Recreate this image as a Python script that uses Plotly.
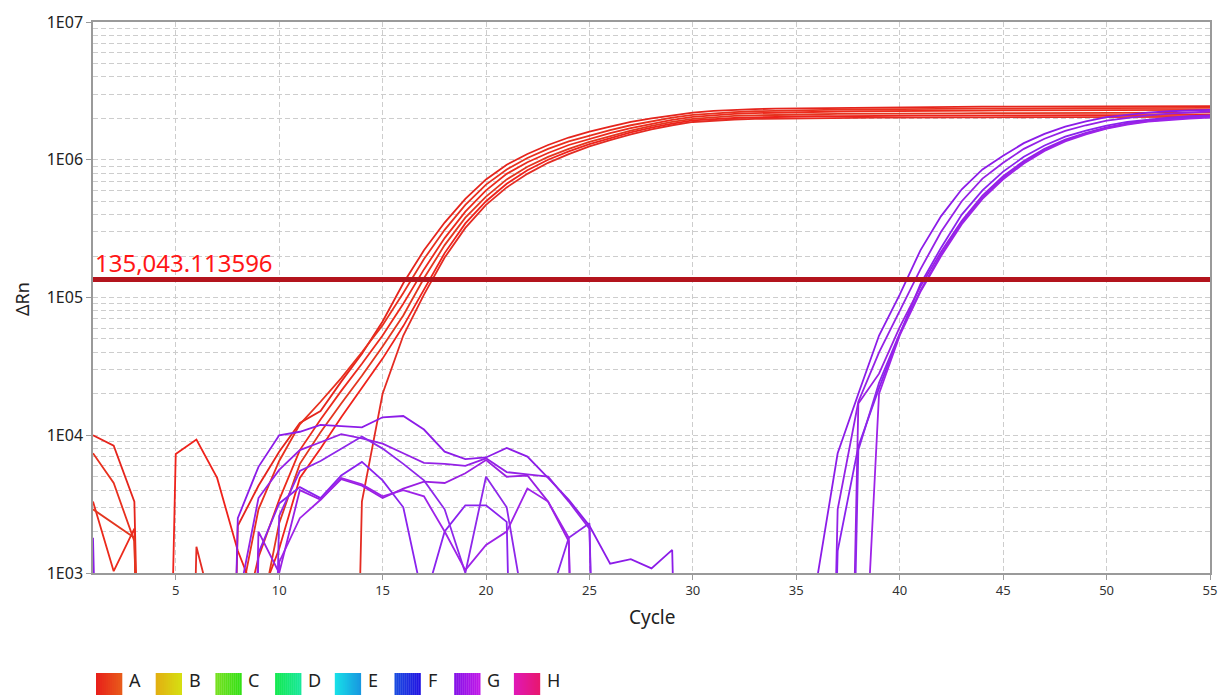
import math
import plotly.graph_objects as go

N = None  # below detection (off-scale on log axis)

cycles = list(range(1, 56))
THRESHOLD = 135043.113596
threshold_label = "135,043.113596"

# ---- Well A (red) amplification traces ----
A1 = [1.0e4, 8.4e3, 3.3e3, N, N, N, N, 2.2e3, 4.3e3, 7.6e3,
      1.23e4, 1.5e4, 2.45e4, 3.9e4, 6.7e4, 1.27e5, 2.2e5, 3.5e5, 5.2e5, 7.2e5,
      9.2e5, 1.1e6, 1.28e6, 1.45e6, 1.6e6, 1.74e6, 1.88e6, 2.0e6, 2.1e6, 2.2e6,
      2.26e6, 2.3e6, 2.33e6, 2.35e6, 2.36e6, 2.37e6, 2.38e6, 2.39e6, 2.4e6, 2.41e6,
      2.41e6, 2.42e6, 2.42e6, 2.43e6, 2.43e6, 2.43e6, 2.44e6, 2.44e6, 2.44e6, 2.44e6,
      2.45e6, 2.45e6, 2.45e6, 2.45e6, 2.45e6]
A2 = [7.4e3, 4.5e3, 1.7e3, N, N, N, N, 500, 2.9e3, 6.5e3,
      1.2e4, 1.75e4, 2.6e4, 4.0e4, 6.3e4, 1.08e5, 1.9e5, 3.1e5, 4.7e5, 6.6e5,
      8.5e5, 1.03e6, 1.2e6, 1.36e6, 1.5e6, 1.64e6, 1.78e6, 1.9e6, 2.02e6, 2.12e6,
      2.18e6, 2.22e6, 2.25e6, 2.27e6, 2.29e6, 2.3e6, 2.31e6, 2.32e6, 2.33e6, 2.33e6,
      2.34e6, 2.34e6, 2.35e6, 2.35e6, 2.35e6, 2.36e6, 2.36e6, 2.36e6, 2.37e6, 2.37e6,
      2.37e6, 2.37e6, 2.38e6, 2.38e6, 2.38e6]
A3 = [3.3e3, 1.03e3, 2.1e3, N, N, N, N, 300, 1.3e3, 3.4e3,
      7.8e3, 1.3e4, 2.1e4, 3.3e4, 5.3e4, 9.0e4, 1.6e5, 2.7e5, 4.2e5, 6.0e5,
      7.9e5, 9.6e5, 1.12e6, 1.28e6, 1.42e6, 1.56e6, 1.7e6, 1.83e6, 1.95e6, 2.05e6,
      2.11e6, 2.15e6, 2.18e6, 2.2e6, 2.22e6, 2.23e6, 2.24e6, 2.25e6, 2.25e6, 2.26e6,
      2.26e6, 2.27e6, 2.27e6, 2.27e6, 2.28e6, 2.28e6, 2.28e6, 2.29e6, 2.29e6, 2.29e6,
      2.29e6, 2.3e6, 2.3e6, 2.3e6, 2.3e6]
A4 = [2.9e3, 2.3e3, 1.8e3, N, N, N, N, N, 400, 2.3e3,
      6.2e3, 1.05e4, 1.7e4, 2.7e4, 4.4e4, 7.4e4, 1.38e5, 2.4e5, 3.8e5, 5.4e5,
      7.2e5, 8.9e5, 1.05e6, 1.2e6, 1.35e6, 1.49e6, 1.63e6, 1.76e6, 1.88e6, 1.98e6,
      2.04e6, 2.08e6, 2.1e6, 2.12e6, 2.13e6, 2.14e6, 2.15e6, 2.15e6, 2.16e6, 2.16e6,
      2.17e6, 2.17e6, 2.17e6, 2.18e6, 2.18e6, 2.18e6, 2.18e6, 2.19e6, 2.19e6, 2.19e6,
      2.19e6, 2.2e6, 2.2e6, 2.2e6, 2.2e6]
A5 = [N, N, N, N, 7.3e3, 9.3e3, 4.9e3, 1.45e3, 600, 1.5e3,
      4.9e3, 8.0e3, 1.35e4, 2.2e4, 3.6e4, 6.2e4, 1.15e5, 2.1e5, 3.45e5, 5.0e5,
      6.7e5, 8.4e5, 1.0e6, 1.15e6, 1.3e6, 1.44e6, 1.58e6, 1.71e6, 1.83e6, 1.93e6,
      1.98e6, 2.01e6, 2.03e6, 2.05e6, 2.06e6, 2.07e6, 2.07e6, 2.08e6, 2.08e6, 2.09e6,
      2.09e6, 2.09e6, 2.1e6, 2.1e6, 2.1e6, 2.1e6, 2.11e6, 2.11e6, 2.11e6, 2.11e6,
      2.11e6, 2.12e6, 2.12e6, 2.12e6, 2.12e6]
A6 = [N, N, N, N, N, 1.55e3, 400, N, N, N,
      N, N, N, 3.3e3, 2.0e4, 5.3e4, 1.05e5, 1.95e5, 3.2e5, 4.7e5,
      6.3e5, 7.9e5, 9.5e5, 1.1e6, 1.25e6, 1.39e6, 1.53e6, 1.66e6, 1.78e6, 1.88e6,
      1.93e6, 1.96e6, 1.98e6, 1.99e6, 2.0e6, 2.01e6, 2.01e6, 2.02e6, 2.02e6, 2.02e6,
      2.03e6, 2.03e6, 2.03e6, 2.03e6, 2.04e6, 2.04e6, 2.04e6, 2.04e6, 2.04e6, 2.05e6,
      2.05e6, 2.05e6, 2.05e6, 2.05e6, 2.05e6]

# ---- Well G (purple) amplification traces ----
G1 = [1.8e3, N, N, N, N, N, N, 2.5e3, 5.9e3, 1.0e4,
      1.06e4, 1.19e4, 1.16e4, 1.14e4, 1.35e4, 1.38e4, 1.1e4, 7.6e3, 6.7e3, 6.9e3,
      8.1e3, 7.0e3, 4.9e3, 3.4e3, 2.2e3, 1.17e3, 1.26e3, 1.08e3, 1.47e3, N,
      N, N, N, N, N, 900, 7.4e3, 2.0e4, 5.3e4, 1.05e5,
      2.2e5, 3.9e5, 6.1e5, 8.5e5, 1.07e6, 1.32e6, 1.54e6, 1.74e6, 1.9e6, 2.04e6,
      2.13e6, 2.2e6, 2.25e6, 2.28e6, 2.3e6]
G2 = [N, N, N, N, N, N, N, 600, 3.5e3, 5.6e3,
      7.8e3, 8.9e3, 1.02e4, 9.5e3, 8.7e3, 7.4e3, 6.3e3, 6.2e3, 6.0e3, 6.8e3,
      5.4e3, 5.2e3, 5.0e3, 3.3e3, 2.1e3, N, N, N, N, N,
      N, N, N, N, N, N, 2.9e3, 1.75e4, 4.0e4, 8.0e4,
      1.6e5, 3.0e5, 5.0e5, 7.3e5, 9.5e5, 1.2e6, 1.42e6, 1.62e6, 1.78e6, 1.92e6,
      2.02e6, 2.1e6, 2.16e6, 2.2e6, 2.24e6]
G3 = [N, N, N, N, N, N, N, N, 1.4e3, 3.2e3,
      4.2e3, 3.5e3, 5.1e3, 6.4e3, 4.7e3, 3.0e3, 600, 2.0e3, 3.1e3, 3.1e3,
      2.35e3, N, N, N, N, N, N, N, N, N,
      N, N, N, N, N, N, 1.45e3, 8.3e3, 2.2e4, 5.4e4,
      1.25e5, 2.3e5, 4.0e5, 6.0e5, 8.2e5, 1.05e6, 1.27e6, 1.47e6, 1.63e6, 1.77e6,
      1.88e6, 1.96e6, 2.02e6, 2.07e6, 2.1e6]
G4 = [N, N, N, N, N, N, N, N, 2.0e3, 1.0e3,
      4.0e3, 3.4e3, 4.8e3, 4.3e3, 3.5e3, 4.1e3, 4.6e3, 4.5e3, 5.3e3, 6.6e3,
      5.0e3, 5.1e3, 3.3e3, 1.7e3, N, N, N, N, N, N,
      N, N, N, N, N, N, N, 1.7e4, 2.8e4, 6.1e4,
      1.2e5, 2.15e5, 3.6e5, 5.5e5, 7.6e5, 9.8e5, 1.2e6, 1.4e6, 1.57e6, 1.72e6,
      1.84e6, 1.93e6, 2.0e6, 2.05e6, 2.08e6]
G5 = [N, N, N, N, N, N, N, N, N, 2.6e3,
      5.5e3, 6.5e3, 8.0e3, 9.8e3, 8.0e3, 6.2e3, 4.7e3, 2.9e3, 1.0e3, 5.0e3,
      3.0e3, 400, 600, 1.8e3, 2.3e3, N, N, N, N, N,
      N, N, N, N, N, N, N, 7.8e3, 2.4e4, 5.5e4,
      1.12e5, 2.05e5, 3.5e5, 5.3e5, 7.4e5, 9.6e5, 1.18e6, 1.38e6, 1.55e6, 1.7e6,
      1.82e6, 1.91e6, 1.97e6, 2.02e6, 2.05e6]
G6 = [N, N, N, N, N, N, N, N, N, 1.2e3,
      2.5e3, 3.4e3, 4.9e3, 4.4e3, 3.6e3, 4.0e3, 3.6e3, 2.0e3, 1.05e3, 1.6e3,
      2.0e3, 4.1e3, 3.3e3, 1.8e3, N, N, N, N, N, N,
      N, N, N, N, N, N, N, 22, 2.0e4, 5.3e4,
      1.1e5, 2.0e5, 3.4e5, 5.2e5, 7.2e5, 9.4e5, 1.16e6, 1.36e6, 1.53e6, 1.68e6,
      1.8e6, 1.89e6, 1.95e6, 1.99e6, 2.02e6]

red_series = [A1, A2, A3, A4, A5, A6]
purple_series = [G1, G2, G3, G4, G5, G6]
red_colors = ["#e5241c", "#e8301e", "#ec2a1c", "#e3361f", "#ef221b", "#e42b22"]
purple_colors = ["#8c1ce8", "#9421e6", "#8a22ee", "#9a1fe2", "#8e27ea", "#9e22e8"]

# legend categories and their gradient colours
legend_names = ["A", "B", "C", "D", "E", "F", "G", "H"]
legend_grad = [("#e81e1a", "#e85c1a"), ("#e2ae12", "#d6e012"), ("#7ae020", "#30e014"),
               ("#14e84e", "#18e89c"), ("#18e2e8", "#1896e0"), ("#1a4ee0", "#2212e2"),
               ("#8212e8", "#c41ae8"), ("#e018b8", "#e8186e")]

y_ticks = [1e3, 1e4, 1e5, 1e6, 1e7]
y_ticktext = ["1E03", "1E04", "1E05", "1E06", "1E07"]
x_ticks = [5, 10, 15, 20, 25, 30, 35, 40, 45, 50, 55]

FLOOR = 1e-3  # display value for below-range points on the log axis


def disp(vals):
    return [FLOOR if v is None else v for v in vals]


fig = go.Figure()
for vals, col in zip(red_series, red_colors):
    fig.add_trace(go.Scatter(x=cycles, y=disp(vals), mode="lines",
                             line=dict(color=col, width=1.8), showlegend=False,
                             hoverinfo="skip"))
for vals, col in zip(purple_series, purple_colors):
    fig.add_trace(go.Scatter(x=cycles, y=disp(vals), mode="lines",
                             line=dict(color=col, width=1.8), showlegend=False,
                             hoverinfo="skip"))

# threshold
fig.add_trace(go.Scatter(x=[cycles[0], cycles[-1]], y=[THRESHOLD, THRESHOLD], mode="lines",
                         line=dict(color="#b3141d", width=5), showlegend=False,
                         hoverinfo="skip"))

W, H = 1218, 695
ML, MR, MT, MB = 93, 8, 22, 122
PW, PH = W - ML - MR, H - MT - MB


def px_x(px):
    return (px - ML) / PW


def px_y(py):
    return (H - MB - py) / PH


fig.add_annotation(x=cycles[0], y=math.log10(THRESHOLD), xref="x", yref="y",
                   text=threshold_label, showarrow=False, xanchor="left", yanchor="bottom",
                   xshift=0, yshift=-1,
                   font=dict(family="Noto Sans", size=24, color="#ff1616"))

# axis titles
fig.add_annotation(x=0.5, y=px_y(617), xref="paper", yref="paper", text="Cycle",
                   showarrow=False, xanchor="center", yanchor="middle",
                   font=dict(family="Noto Sans", size=19, color="#222"))
fig.add_annotation(x=px_x(22), y=px_y(299), xref="paper", yref="paper", text="ΔRn",
                   showarrow=False, textangle=-90, xanchor="center", yanchor="middle",
                   font=dict(family="Noto Sans", size=18, color="#222"))


def hex2rgb(h):
    h = h.lstrip("#")
    return tuple(int(h[i:i + 2], 16) for i in (0, 2, 4))


# legend with gradient swatches
shapes = []
sw, step, nsl = 26, 59.7, 13
for i, (name, (c0, c1)) in enumerate(zip(legend_names, legend_grad)):
    x0 = 96 + i * step
    r0, r1 = hex2rgb(c0), hex2rgb(c1)
    for k in range(nsl):
        t = (k + 0.5) / nsl
        c = tuple(round(r0[j] + (r1[j] - r0[j]) * t) for j in range(3))
        xa = x0 + sw * k / nsl
        xb = x0 + sw * (k + 1) / nsl + 0.3
        shapes.append(dict(type="rect", xref="paper", yref="paper",
                           x0=px_x(xa), x1=px_x(xb), y0=px_y(673), y1=px_y(695),
                           fillcolor="rgb(%d,%d,%d)" % c, line=dict(width=0), layer="above"))
    fig.add_annotation(x=px_x(x0 + sw + 5), y=px_y(694), xref="paper", yref="paper",
                       text=name, showarrow=False, xanchor="left", yanchor="bottom",
                       font=dict(family="Noto Sans", size=18, color="#222"))

minor_vals = [m * 10 ** e for e in range(3, 7) for m in range(2, 10)]
grid_col = "#cdcdcd"
dash = "5px,3px"

fig.update_layout(
    width=W, height=H,
    margin=dict(l=ML, r=MR, t=MT, b=MB, autoexpand=False),
    paper_bgcolor="white", plot_bgcolor="white",
    font=dict(family="Noto Sans", color="#333"),
    shapes=shapes,
    xaxis=dict(range=[1, 55], tickvals=x_ticks, ticks="outside", ticklen=5,
               tickcolor="#9a9a9a", showline=True, linecolor="#9a9a9a", linewidth=1.5,
               mirror=True, showgrid=True, gridcolor=grid_col, griddash=dash,
               zeroline=False, automargin=False, tickfont=dict(size=13, color="#333")),
    yaxis=dict(type="log", range=[3, 7], tickvals=y_ticks, ticktext=y_ticktext,
               ticks="outside", ticklen=5, tickcolor="#9a9a9a", showline=True,
               linecolor="#9a9a9a", linewidth=1.5, mirror=True, showgrid=True,
               gridcolor=grid_col, griddash=dash, zeroline=False, automargin=False,
               tickfont=dict(size=16, color="#222"),
               minor=dict(tickvals=minor_vals, showgrid=True, gridcolor=grid_col,
                          griddash=dash, ticks="")),
)

fig.write_html("out.html")
